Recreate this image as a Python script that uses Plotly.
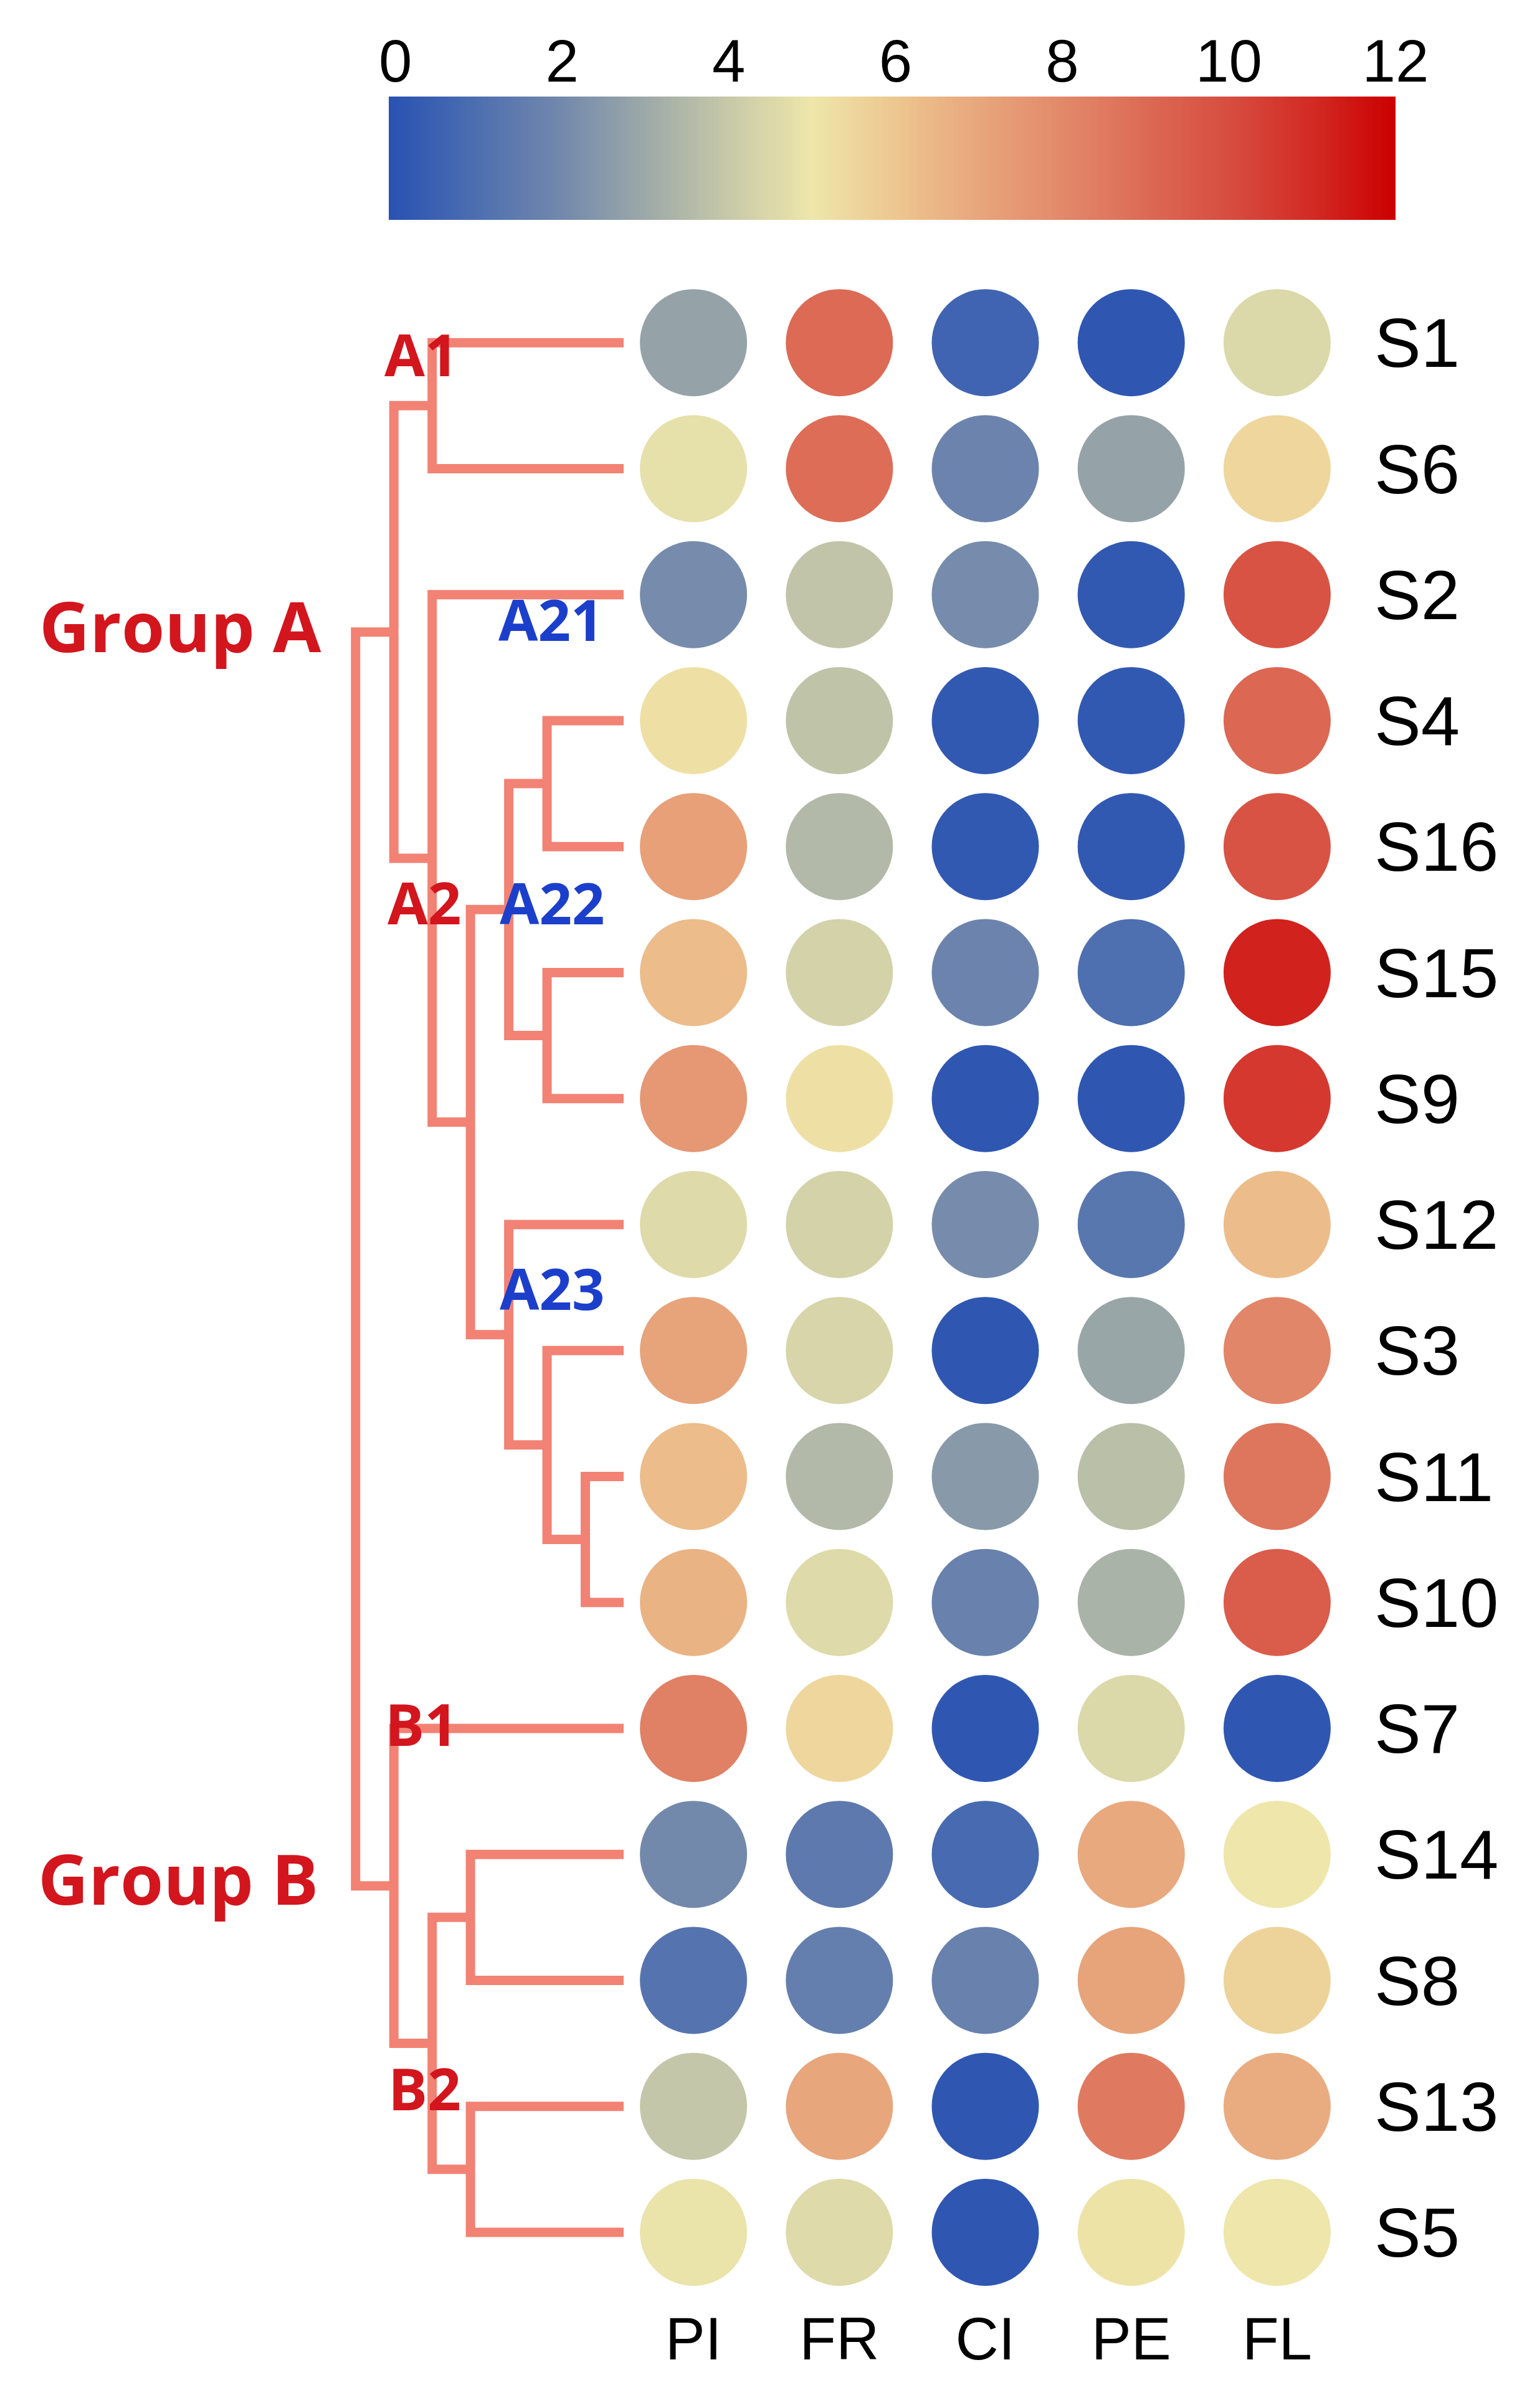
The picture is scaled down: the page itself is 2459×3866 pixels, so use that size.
import numpy as np
import plotly.graph_objects as go

# ---------------- data ----------------
samples = ["S1", "S6", "S2", "S4", "S16", "S15", "S9", "S12",
           "S3", "S11", "S10", "S7", "S14", "S8", "S13", "S5"]
indices = ["PI", "FR", "CI", "PE", "FL"]

PI = [2.8, 4.8, 2.1, 5.2, 7.2, 6.3, 7.5, 4.6, 7.1, 6.3, 6.6, 8.3, 2.0, 1.2, 3.9, 4.9]
FR = [9.0, 8.9, 3.85, 3.8, 3.5, 4.3, 5.2, 4.3, 4.4, 3.5, 4.6, 5.5, 1.4, 1.6, 7.0, 4.6]
CI = [0.6, 1.8, 2.1, 0.2, 0.2, 1.8, 0.1, 2.1, 0.1, 2.5, 1.7, 0.1, 0.8, 1.7, 0.1, 0.1]
PE = [0.1, 2.8, 0.2, 0.2, 0.2, 1.0, 0.1, 1.3, 2.9, 3.7, 3.3, 4.5, 6.9, 7.1, 8.5, 5.1]
FL = [4.5, 5.5, 9.8, 9.1, 9.8, 11.2, 10.6, 6.3, 8.1, 8.6, 9.5, 0.1, 5.0, 5.6, 6.8, 5.0]
values = {"PI": PI, "FR": FR, "CI": CI, "PE": PE, "FL": FL}

# dendrogram merges: (node, child1, child2, height)
merges = [
    ("A1", "S1", "S6", 5),
    ("n_s4s16", "S4", "S16", 2),
    ("n_s15s9", "S15", "S9", 2),
    ("A22", "n_s4s16", "n_s15s9", 3),
    ("n_s11s10", "S11", "S10", 1),
    ("n_s3", "S3", "n_s11s10", 2),
    ("A23", "S12", "n_s3", 3),
    ("n_a22a23", "A22", "A23", 4),
    ("A2", "S2", "n_a22a23", 5),
    ("A", "A1", "A2", 6),
    ("n_s14s8", "S14", "S8", 4),
    ("n_s13s5", "S13", "S5", 4),
    ("B2", "n_s14s8", "n_s13s5", 5),
    ("B", "S7", "B2", 6),
    ("root", "A", "B", 7),
]

cb_ticks = [0, 2, 4, 6, 8, 10, 12]

colorscale = [
    [0 / 12, "#2B54B2"], [1 / 12, "#4E6FB0"], [2 / 12, "#7389AC"],
    [3 / 12, "#9DA9A8"], [4 / 12, "#C7C9A8"], [5 / 12, "#EEE6AA"],
    [6 / 12, "#EDC690"], [7 / 12, "#E8A67C"], [8 / 12, "#E2896A"],
    [9 / 12, "#DC6A55"], [10 / 12, "#D74D40"], [11 / 12, "#D22A24"],
    [12 / 12, "#CC0000"],
]

# ---------------- layout helpers ----------------
W, H = 2459, 3866
OX, OY = 8, 8      # compensate the page's default body margin
def fx(p): return (p - OX) / W
def fy(p): return 1 - (p - OY) / H

ROW_TOP, ROW_BOT = 449, 3685          # pixel extents of the row band
COL_L, COL_R = 996, 2167              # pixel extents of the column band
DEN_L, DEN_R = 540, 1001              # dendrogram band
CB_L, CB_R, CB_T, CB_B = 624, 2240, 155, 353

fig = go.Figure()

# ---------------- dot matrix ----------------
xs, ys, cs = [], [], []
for j, name in enumerate(indices):
    for i, s in enumerate(samples):
        xs.append(j)
        ys.append(i)
        cs.append(values[name][i])

fig.add_trace(go.Scatter(
    x=xs, y=ys, mode="markers",
    marker=dict(size=172, color=cs, colorscale=colorscale, cmin=0, cmax=12,
                line=dict(width=0), showscale=False),
    hoverinfo="skip", showlegend=False, xaxis="x", yaxis="y",
))

# ---------------- dendrogram ----------------
pos = {s: (float(i), 0.0) for i, s in enumerate(samples)}
lx, ly = [], []
for node, a, b, h in merges:
    ya, ha = pos[a]
    yb, hb = pos[b]
    lx += [ha, h, h, hb, None]
    ly += [ya, ya, yb, yb, None]
    pos[node] = ((ya + yb) / 2, h)

fig.add_trace(go.Scatter(
    x=lx, y=ly, mode="lines",
    line=dict(color="#F28274", width=15),
    hoverinfo="skip", showlegend=False, xaxis="x2", yaxis="y",
))

# ---------------- colour bar ----------------
grad = np.linspace(-0.1, 12.05, 500)
fig.add_trace(go.Heatmap(
    z=[grad], x=grad, y=[0], colorscale=colorscale, zmin=0, zmax=12,
    showscale=False, hoverinfo="skip", xaxis="x3", yaxis="y3",
))

# ---------------- axes ----------------
fig.update_layout(
    width=W, height=H, autosize=False,
    margin=dict(l=0, r=0, t=0, b=0, pad=0, autoexpand=False),
    paper_bgcolor="white", plot_bgcolor="white",
    xaxis=dict(domain=[fx(COL_L), fx(COL_R)], range=[-0.5, 4.5],
               tickvals=list(range(len(indices))), ticktext=indices,
               showgrid=False, zeroline=False, showline=False, ticks="",
               tickfont=dict(family="Liberation Sans, Arial", size=96, color="black"),
               ticklabelstandoff=6, anchor="y", automargin=False),
    yaxis=dict(domain=[fy(ROW_BOT), fy(ROW_TOP)], range=[15.5, -0.5],
               tickvals=list(range(len(samples))), ticktext=samples,
               side="right", showgrid=False, zeroline=False, showline=False,
               ticks="", tickfont=dict(family="Liberation Sans, Arial", size=112, color="black"),
               ticklabelstandoff=38, anchor="x", automargin=False),
    xaxis2=dict(domain=[fx(DEN_L), fx(DEN_R)], range=[7.5, 0],
                visible=False, anchor="y", automargin=False),
    xaxis3=dict(domain=[fx(CB_L), fx(CB_R)], range=[-0.08, 12.0],
                side="top", tickvals=cb_ticks, ticks="", showgrid=False,
                zeroline=False, showline=False,
                tickfont=dict(family="Liberation Sans, Arial", size=96, color="black"),
                ticklabelstandoff=4, anchor="y3", automargin=False),
    yaxis3=dict(domain=[fy(CB_B), fy(CB_T)], range=[-0.5, 0.5],
                visible=False, anchor="x3", automargin=False),
)

# ---------------- cluster labels ----------------
RED, BLUE = "#D3151D", "#1C3FCB"
labels = [
    ("Group A", 289, 1004, RED, 112),
    ("Group B", 286, 3014, RED, 112),
    ("A1", 676, 568, RED, 94),
    ("A2", 681, 1448, RED, 94),
    ("A21", 884, 994, BLUE, 92),
    ("A22", 886, 1449, BLUE, 92),
    ("A23", 886, 2067, BLUE, 92),
    ("B1", 676, 2767, RED, 94),
    ("B2", 681, 3352, RED, 94),
]
for text, px_, py_, col, sz in labels:
    fig.add_annotation(
        x=fx(px_), y=fy(py_), xref="paper", yref="paper",
        text=f"<b>{text}</b>", showarrow=False,
        xanchor="center", yanchor="middle",
        font=dict(family="Open Sans", size=sz, color=col),
    )

fig.write_html("out.html")
